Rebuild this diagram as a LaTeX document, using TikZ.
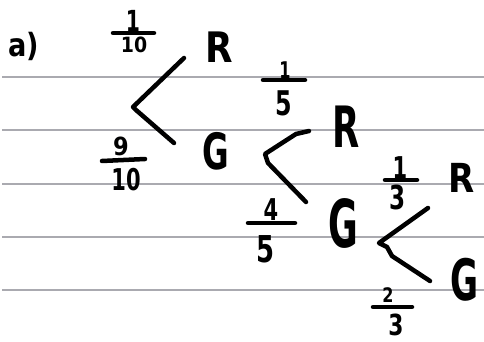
\documentclass[tikz,border=0pt]{standalone}
\usepackage{fontspec}
\setmainfont{DejaVu Sans}
\usetikzlibrary{calc}
\tikzset{
  rule/.style={draw={rgb,255:red,170;green,170;blue,176}, line width=2pt},
  ink/.style={draw=black, line width=4.5pt, line cap=round, line join=round},
  txt/.style={inner sep=0pt, anchor=base, text=black, font=\bfseries},
}
\newcommand{\fs}[1]{\fontsize{#1}{#1}\selectfont}
\newcommand{\nx}[2]{\scalebox{#1}[1]{#2}}
\begin{document}
\begin{tikzpicture}[x=1pt,y=-1pt]
\useasboundingbox (0,0) rectangle (484,342);
% ruled paper
\foreach \yy in {77,130,184,237,290} \draw[rule] (2,\yy) -- (484,\yy);
% label
\node[txt, anchor=base west] (lab) at (8,57) {\fs{32}\nx{0.85}{a)}};
% letters
\node[txt] (R1) at (219,63) {\fs{42}\nx{0.85}{R}};
\node[txt] (G1) at (216,169) {\fs{50}\nx{0.65}{G}};
\node[txt] (R2) at (346,147) {\fs{57}\nx{0.62}{R}};
\node[txt] (G2) at (343,247) {\fs{66}\nx{0.55}{G}};
\node[txt] (R3) at (462,192) {\fs{40}\nx{0.85}{R}};
\node[txt] (G3) at (465,300) {\fs{57}\nx{0.6}{G}};
% fractions
\node[txt] (n1) at (133,32) {\fs{29}\nx{0.7}{1}};
\node[txt] (d1) at (134,53) {\fs{21}\nx{0.9}{10}};
\node[txt] (n2) at (121,155) {\fs{25}\nx{0.9}{9}};
\node[txt] (d2) at (126,190) {\fs{30}\nx{0.7}{10}};
\node[txt] (n3) at (285,79) {\fs{23}\nx{0.7}{1}};
\node[txt] (d3) at (284,115) {\fs{34}\nx{0.7}{5}};
\node[txt] (n4) at (271,220) {\fs{30}\nx{0.7}{4}};
\node[txt] (d4) at (266,262) {\fs{37}\nx{0.7}{5}};
\node[txt] (n5) at (400,178) {\fs{30}\nx{0.7}{1}};
\node[txt] (d5) at (398,209) {\fs{33}\nx{0.7}{3}};
\node[txt] (n6) at (388,302) {\fs{20}\nx{0.8}{2}};
\node[txt] (d6) at (396,335) {\fs{29}\nx{0.75}{3}};
% fraction bars
\coordinate (b1a) at (113,33); \coordinate (b1b) at (154,33);
\coordinate (b2a) at (102,161); \coordinate (b2b) at (145,159);
\coordinate (b3a) at (263,80); \coordinate (b3b) at (305,80);
\coordinate (b4a) at (248,223); \coordinate (b4b) at (295,223);
\coordinate (b5a) at (385,180); \coordinate (b5b) at (417,180);
\coordinate (b6a) at (373,307); \coordinate (b6b) at (412,307);
\foreach \b in {1,...,6} \draw[ink] (b\b a) -- (b\b b);
% tree 1
\coordinate (f1) at (133,107);
\coordinate (u1) at (184,58);
\coordinate (l1) at (174,143);
\draw[ink] (u1) -- (f1) -- ($(f1)+(3,3)$) -- (l1);
% tree 2
\coordinate (f2) at (265,154);
\coordinate (u2) at (309,131);
\coordinate (l2) at (306,202);
\draw[ink] (u2) -- (296,134) -- (282,143) -- (f2) -- (268,163) -- (l2);
% tree 3
\coordinate (f3) at (379,243);
\coordinate (u3) at (428,208);
\coordinate (l3) at (430,281);
\draw[ink] (u3) -- (f3) -- (387,247) -- (392,256) -- (l3);
\end{tikzpicture}
\end{document}
